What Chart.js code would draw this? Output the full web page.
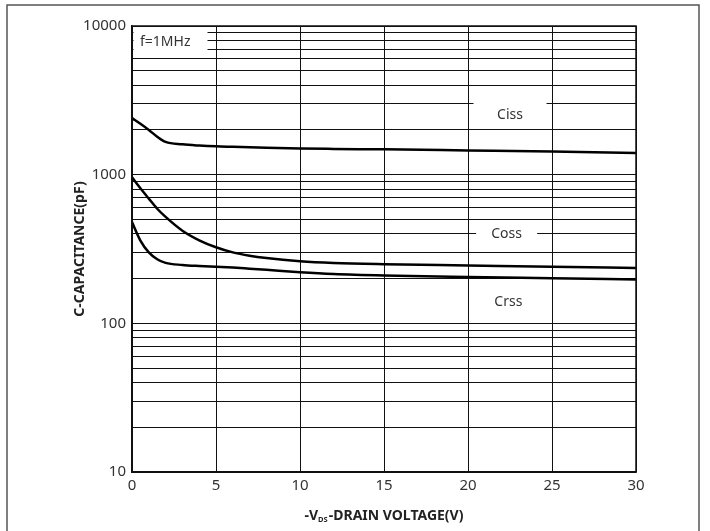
<!DOCTYPE html>
<html>
<head>
<meta charset="utf-8">
<script src="https://cdn.jsdelivr.net/npm/chart.js@4/dist/chart.umd.min.js"></script>
<style>
  body { margin: 0; background: #fff; }
  canvas { display: block; }
</style>
</head>
<body>
<canvas id="capChart" width="710" height="531"></canvas>
<script>
// drain-source voltage (V)
const vds = [0, 0.5, 1, 1.5, 2, 3, 4, 5, 6, 7, 8, 10, 12, 15, 20, 25, 30];

// capacitance values (pF)
const ciss = [2400, 2200, 2000, 1800, 1660, 1600, 1570, 1550, 1540, 1530, 1520, 1500, 1490, 1480, 1455, 1430, 1400];
const coss = [960, 810, 690, 590, 520, 420, 362, 325, 300, 285, 275, 262, 255, 250, 245, 240, 236];
const crss = [480, 360, 300, 270, 255, 247, 243, 240, 237, 233, 229, 221, 215, 210, 205, 201, 197];

const xTicks = [0, 5, 10, 15, 20, 25, 30];
const yTickLabels = [10, 100, 1000, 10000];

// grid lines at 1..9 x each decade
const yGrid = [];
for (let d = 10; d < 10000; d *= 10) {
  for (let m = 1; m < 10; m++) yGrid.push(d * m);
}
yGrid.push(10000);

const FONT = '"Noto Sans", "DejaVu Sans", sans-serif';

const toPoints = vals => vds.map((v, i) => ({ x: v, y: vals[i] }));

// curve labels with white boxes behind them
const curveLabels = [
  { text: 'Ciss', v: 22.5, c: 2530, w: 73, h: 28 },
  { text: 'Coss', v: 22.3, c: 400, w: 61, h: 20 },
  { text: 'Crss', v: 22.4, c: 140, w: 0, h: 0 }
];

const decorations = {
  id: 'decorations',
  beforeDraw(chart) {
    const ctx = chart.ctx;
    ctx.save();
    ctx.fillStyle = '#fff';
    ctx.fillRect(0, 0, chart.width, chart.height);
    ctx.restore();
  },
  afterDatasetsDraw(chart) {
    const { ctx, chartArea: a, scales } = chart;
    ctx.save();

    // f=1MHz note in the top-left corner
    ctx.fillStyle = '#fff';
    ctx.fillRect(a.left + 1.5, a.top + 1, 74, 26);
    ctx.fillStyle = '#333';
    ctx.font = '14px ' + FONT;
    ctx.textAlign = 'left';
    ctx.textBaseline = 'middle';
    ctx.fillText('f=1MHz', a.left + 8, a.top + 16);

    ctx.textAlign = 'center';
    curveLabels.forEach(l => {
      const x = scales.x.getPixelForValue(l.v);
      const y = scales.y.getPixelForValue(l.c);
      if (l.w) {
        ctx.fillStyle = '#fff';
        ctx.fillRect(x - l.w / 2, y - l.h / 2, l.w, l.h);
      }
      ctx.fillStyle = '#333';
      ctx.fillText(l.text, x, y);
    });

    // plot frame
    ctx.strokeStyle = '#111';
    ctx.lineWidth = 1.5;
    ctx.strokeRect(a.left, a.top, a.right - a.left, a.bottom - a.top);

    // x axis title with subscript
    const cx = (a.left + a.right) / 2;
    const baseY = 520;
    const big = 'bold 14px ' + FONT;
    const small = 'bold 7.5px ' + FONT;
    ctx.font = big;
    const w1 = ctx.measureText('-V').width;
    const w3 = ctx.measureText('-DRAIN VOLTAGE(V)').width;
    ctx.font = small;
    const w2 = ctx.measureText('DS').width + 1;
    let x0 = cx - (w1 + w2 + w3) / 2;
    ctx.fillStyle = '#222';
    ctx.textAlign = 'left';
    ctx.textBaseline = 'alphabetic';
    ctx.font = big;
    ctx.fillText('-V', x0, baseY);
    ctx.font = small;
    ctx.fillText('DS', x0 + w1, baseY + 2);
    ctx.font = big;
    ctx.fillText('-DRAIN VOLTAGE(V)', x0 + w1 + w2, baseY);

    // outer frame of the figure
    ctx.strokeStyle = '#555';
    ctx.lineWidth = 1.5;
    ctx.strokeRect(7, 5, 692, 600);
    ctx.restore();
  }
};

const lineStyle = {
  borderColor: '#000',
  borderWidth: 2.5,
  pointRadius: 0,
  fill: false,
  cubicInterpolationMode: 'monotone'
};

new Chart(document.getElementById('capChart').getContext('2d'), {
  type: 'line',
  data: {
    datasets: [
      { label: 'Ciss', data: toPoints(ciss), ...lineStyle },
      { label: 'Coss', data: toPoints(coss), ...lineStyle },
      { label: 'Crss', data: toPoints(crss), ...lineStyle }
    ]
  },
  options: {
    responsive: false,
    devicePixelRatio: 1,
    animation: false,
    layout: { padding: { top: 26, right: 74, left: 64, bottom: 0 } },
    plugins: {
      legend: { display: false },
      tooltip: { enabled: false }
    },
    scales: {
      x: {
        type: 'linear',
        min: 0,
        max: 30,
        afterBuildTicks: s => { s.ticks = xTicks.map(v => ({ value: v })); },
        afterFit: s => { s.height = 59; },
        grid: { color: '#111', lineWidth: 1, drawTicks: false },
        border: { color: '#111', width: 1.5 },
        ticks: {
          color: '#333',
          padding: 5,
          maxRotation: 0,
          font: { family: FONT, size: 15 }
        },
        title: { display: false }
      },
      y: {
        type: 'logarithmic',
        min: 10,
        max: 10000,
        afterBuildTicks: s => { s.ticks = yGrid.map(v => ({ value: v })); },
        afterFit: s => { s.width = 68; },
        grid: { color: '#111', lineWidth: 1, drawTicks: false },
        border: { color: '#111', width: 1.5 },
        ticks: {
          color: '#333',
          padding: 6,
          autoSkip: false,
          font: { family: FONT, size: 15 },
          callback: v => (yTickLabels.includes(v) ? String(v) : '')
        },
        title: {
          display: true,
          text: 'C-CAPACITANCE(pF)',
          color: '#222',
          padding: { top: 8, bottom: 4 },
          font: { family: FONT, size: 14, weight: 'bold' }
        }
      }
    }
  },
  plugins: [decorations]
});
</script>
</body>
</html>
